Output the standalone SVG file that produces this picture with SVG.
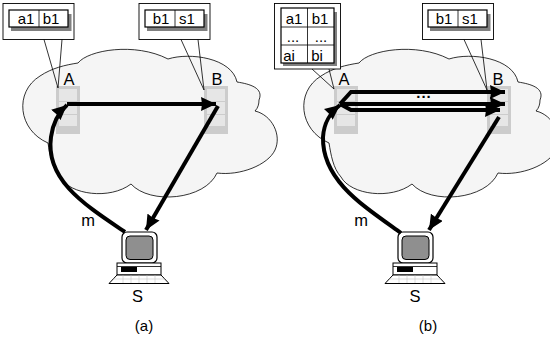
<svg xmlns="http://www.w3.org/2000/svg" xmlns:xlink="http://www.w3.org/1999/xlink" width="550" height="344" viewBox="0 0 550 344">
<style>
text{font-family:"Liberation Sans",Arial,sans-serif;fill:#000;font-size:14px}
.lbl{font-size:16.500px;text-anchor:middle}
.cell{font-size:15px;text-anchor:middle}
.cloud{fill:#f5f5f5;stroke:#000;stroke-width:.8}
.box{fill:#fff;stroke:#000;stroke-width:.9}
.shadow{fill:#808080}
.tbl{fill:#fff;stroke:#000;stroke-width:1.200}
.thin{fill:none;stroke:#000;stroke-width:.8}
.stack{fill:#cccccc}
.slot{fill:#e6e6e6}
.conn{fill:none;stroke:#000;stroke-width:4}
</style>
<defs>
<marker id="ah" markerUnits="userSpaceOnUse" markerWidth="16" markerHeight="14" refX="15" refY="7" orient="auto"><path d="M0 0L15 7L0 14L1 7Z" fill="#000"/></marker>
<path id="cloudShape" d="M48 143C18 130 14 92 40 76C52 68 65 65 78 63C88 50 135 42 168 59C190 52 232 58 237 82C250 84 264 88 259 100C259 104 258 108 255 111C272 115 282 135 275 150C268 165 240 176 217 173C205 200 150 205 131 184C110 200 70 195 60 177C52 168 50 155 48 143Z"/>
<g id="stackShape"><rect class="stack" width="24" height="48"/><rect class="slot" x="3" y="3" width="18" height="12"/><rect class="slot" x="3" y="16" width="18" height="12"/><rect class="slot" x="3" y="29" width="18" height="11"/></g>
<g id="pc">
<rect x="1" y="0" width="35" height="31" rx="5" fill="#fff" stroke="#000" stroke-width="1.2"/>
<rect x="5" y="4" width="27" height="23.500" rx="4" fill="#8f8f8f" stroke="#000" stroke-width="1"/>
<rect x="-4" y="31" width="44" height="12" fill="#fff" stroke="#000" stroke-width="1"/>
<line x1="-4" y1="34.500" x2="40" y2="34.500" stroke="#000" stroke-width=".8"/>
<rect x="0" y="35" width="16" height="5" fill="#000"/>
<path d="M-4 43H40L48 51.500H-12Z" fill="#fff" stroke="#000" stroke-width="1"/>
<path d="M-8 47H44M2 43V51M10 43V51M18 43V51M26 43V51M34 43V51" stroke="#bbb" stroke-width=".5" fill="none"/>
</g>
</defs>
<g id="cloud-a"><use xlink:href="#cloudShape" class="cloud"/></g>
<g id="cloud-b"><use xlink:href="#cloudShape" x="281" class="cloud"/></g>
<g id="node-A-a"><use xlink:href="#stackShape" x="56" y="86"/><text class="lbl" x="69" y="85">A</text></g>
<g id="node-B-a"><use xlink:href="#stackShape" x="204" y="86"/><text class="lbl" x="217" y="85">B</text></g>
<g id="node-A-b"><use xlink:href="#stackShape" x="334" y="86"/><text class="lbl" x="344" y="85">A</text></g>
<g id="node-B-b"><use xlink:href="#stackShape" x="487" y="86"/><text class="lbl" x="498" y="85">B</text></g>
<g id="table-a">
<rect class="box" x="3" y="3.500" width="71" height="36"/>
<rect class="shadow" x="11" y="14" width="60.500" height="17"/>
<rect class="tbl" x="9" y="10" width="59" height="17"/><line class="thin" x1="39" y1="10" x2="39" y2="27"/>
<text class="cell" x="26" y="23.500">a1</text><text class="cell" x="51" y="23.500">b1</text>
<path class="thin" d="M44 39.500L58 88L62 39.500"/>
</g>
<g id="table-b1">
<rect class="box" x="139" y="3.500" width="71" height="36"/>
<rect class="shadow" x="147" y="14" width="60.500" height="17"/>
<rect class="tbl" x="145" y="10" width="59" height="17"/><line class="thin" x1="175" y1="10" x2="175" y2="27"/>
<text class="cell" x="161" y="23.500">b1</text><text class="cell" x="187" y="23.500">s1</text>
<path class="thin" d="M181 39.500L204 90L198 39.500"/>
</g>
<g id="table-ab">
<rect class="box" x="274.500" y="3.500" width="66" height="65.500"/>
<rect class="shadow" x="283" y="12" width="54" height="54"/>
<rect class="tbl" x="281" y="8" width="53" height="55"/>
<path class="thin" d="M307.500 8V63M281 27H334M281 45H334"/>
<text class="cell" x="294" y="23.500">a1</text><text class="cell" x="320" y="23.500">b1</text>
<text class="cell" x="293" y="42">...</text><text class="cell" x="321" y="42">...</text>
<text class="cell" x="289" y="61">ai</text><text class="cell" x="317" y="61">bi</text>
<path class="thin" d="M312 69L334 89L329 69"/>
</g>
<g id="table-b2">
<rect class="box" x="422.500" y="3.500" width="71" height="36"/>
<rect class="shadow" x="430" y="14" width="60.500" height="17"/>
<rect class="tbl" x="428" y="10" width="59" height="17"/><line class="thin" x1="458" y1="10" x2="458" y2="27"/>
<text class="cell" x="444" y="23.500">b1</text><text class="cell" x="470" y="23.500">s1</text>
<path class="thin" d="M464 39.500L487 90L481 39.500"/>
</g>
<g id="computer-a"><use xlink:href="#pc" x="121" y="232"/><text class="lbl" x="137.500" y="302">S</text></g>
<g id="computer-b"><use xlink:href="#pc" x="397" y="232"/><text class="lbl" x="415" y="302">S</text></g>
<g id="connectors">
<path class="conn" marker-end="url(#ah)" d="M67 104H216"/>
<path class="conn" marker-end="url(#ah)" d="M125 232C85 205 45 180 51 137C53 122 58 113 67 105"/>
<path class="conn" marker-end="url(#ah)" d="M218 106L146 230"/>
<path class="conn" marker-end="url(#ah)" d="M340 104L351 92H505"/>
<path class="conn" marker-end="url(#ah)" d="M340 104H505"/>
<path class="conn" marker-end="url(#ah)" d="M340 104L351 110H500"/>
<path class="conn" marker-end="url(#ah)" d="M401 233C362 205 322 180 323 137C324 122 330 113 340 105"/>
<path class="conn" marker-end="url(#ah)" d="M499 117L429 230"/>
</g>
<text x="424" y="98" font-weight="bold" text-anchor="middle" style="font-size:15px;letter-spacing:1px">...</text>
<text class="lbl" x="88" y="226">m</text>
<text class="lbl" x="361" y="226">m</text>
<text class="lbl" x="144" y="331" style="font-size:15px">(a)</text>
<text class="lbl" x="428" y="331" style="font-size:15px">(b)</text>
</svg>
